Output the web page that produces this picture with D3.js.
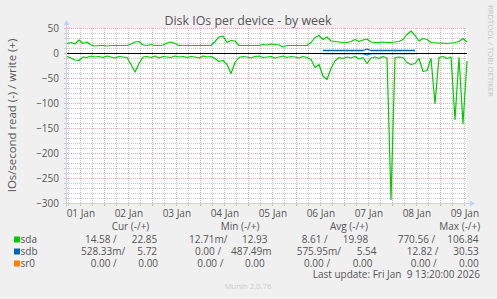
<!DOCTYPE html>
<html>
<head>
<meta charset="utf-8">
<script src="https://cdn.jsdelivr.net/npm/d3@7"></script>
<style>
  html, body { margin: 0; padding: 0; background: #f0f0f0; }
  svg { display: block; font-family: "Open Sans", sans-serif; }
</style>
</head>
<body>
<svg id="chart" width="497" height="299"></svg>
<script>
// one sample every 2 hours, starting at the left edge of the week graph
const startTime = "2026-01-01T05:20:00Z";
const stepHours = 2;

const sdaWrite = [
	20, 22, 19, 27, 20, 23, 17, 15, 16, 16, 15, 16, 16, 16, 16, 16, 19, 23, 24, 17,
	16, 18, 16, 16, 17, 21, 23, 20, 16, 16, 16, 16, 16, 16, 16, 16, 16, 24, 33, 35,
	22, 26, 25, 16, 16, 16, 16, 16, 16, 18, 17, 19, 18, 17, 13, 16, 16, 16, 16, 16,
	16, 22, 32, 36, 28, 33, 25, 24, 23, 22, 22, 24, 28, 24, 27, 29, 23, 22, 22, 23,
	22, 22, 23, 24, 28, 38, 45, 36, 25, 30, 28, 22, 21, 21, 21, 20, 21, 22, 24, 30,
	23
];
// read rates are drawn below zero
const sdaRead = [
	6, 9, 13, 14, 7, 8, 5, 7, 6, 8, 5, 7, 9, 6, 7, 8, 22, 37, 20, 7,
	6, 8, 5, 9, 6, 7, 8, 5, 7, 6, 8, 6, 7, 9, 5, 7, 6, 10, 16, 14,
	22, 40, 18, 8, 6, 7, 9, 6, 5, 8, 7, 6, 9, 7, 5, 8, 6, 7, 9, 6,
	8, 12, 28, 22, 45, 52, 30, 15, 8, 10, 7, 9, 6, 11, 8, 20, 9, 7, 10, 6,
	9, 292, 8, 7, 8, 18, 22, 20, 10, 36, 34, 10, 100, 8, 6, 10, 7, 132, 8, 140,
	15
];
const sdbWrite = [
	null, null, null, null, null, null, null, null, null, null, null, null, null, null, null, null, null, null, null, null,
	null, null, null, null, null, null, null, null, null, null, null, null, null, null, null, null, null, null, null, null,
	null, null, null, null, null, null, null, null, null, null, null, null, null, null, null, null, null, null, null, null,
	null, null, null, null, 6, 6, 6, 6, 6, 6, 6, 6, 6, 6, 6, 9, 6, 6, 6, 6,
	6, 6, 6, 6, 6, 6, 6, 6, null, null, null, null, null, null, null, null, null, null, null, null,
	null
];
const sdbRead = [
	null, null, null, null, null, null, null, null, null, null, null, null, null, null, null, null, null, null, null, null,
	null, null, null, null, null, null, null, null, null, null, null, null, null, null, null, null, null, null, null, null,
	null, null, null, null, null, null, null, null, null, null, null, null, null, null, null, null, null, null, null, null,
	null, null, null, null, 0.5, 0.5, 0.5, 0.5, 0.5, 0.5, 0.5, 0.5, 0.5, 0.5, 0.5, 3, 0.5, 0.5, 0.5, 0.5,
	0.5, 0.5, 0.5, 0.5, 0.5, 0.5, 0.5, 0.5, null, null, null, null, null, null, null, null, null, null, null, null,
	null
];
const sr0Write = [
	0, 0, 0, 0, 0, 0, 0, 0, 0, 0, 0, 0, 0, 0, 0, 0, 0, 0, 0, 0,
	0, 0, 0, 0, 0, 0, 0, 0, 0, 0, 0, 0, 0, 0, 0, 0, 0, 0, 0, 0,
	0, 0, 0, 0, 0, 0, 0, 0, 0, 0, 0, 0, 0, 0, 0, 0, 0, 0, 0, 0,
	0, 0, 0, 0, 0, 0, 0, 0, 0, 0, 0, 0, 0, 0, 0, 0, 0, 0, 0, 0,
	0, 0, 0, 0, 0, 0, 0, 0, 0, 0, 0, 0, 0, 0, 0, 0, 0, 0, 0, 0,
	0
];
const sr0Read = sr0Write;

const yTicks = [50, 0, -50, -100, -150, -200, -250, -300];
const dayLabels = ["01 Jan", "02 Jan", "03 Jan", "04 Jan", "05 Jan", "06 Jan", "07 Jan", "08 Jan", "09 Jan"];

const legendHeader = ["Cur (-/+)", "Min (-/+)", "Avg (-/+)", "Max (-/+)"];
const legendNames = ["sda", "sdb", "sr0"];
const legendValues = [
	["14.58 /", "22.85", "12.71m/", "12.93", "8.61 /", "19.98", "770.56 /", "106.84"],
	["528.33m/", "5.72", "0.00 /", "487.49m", "575.95m/", "5.54", "12.82 /", "30.53"],
	["0.00 /", "0.00", "0.00 /", "0.00", "0.00 /", "0.00", "0.00 /", "0.00"]
];
const lastUpdate = "Last update: Fri Jan  9 13:20:00 2026";

const colors = ["#00CC00", "#0066B3", "#FF8000"];

// layout
const plot = { left: 67, right: 467, top: 28, bottom: 203 };
const headerX = [111.7, 220.7, 330, 439.3];
const valueX = [
	[85, 131.7, 189, 242, 301.7, 342.7, 397.7, 447.3],
	[81, 137.3, 195, 231, 296.7, 356.7, 406.7, 453.3],
	[90.7, 138.3, 197.3, 245, 304, 352.7, 410.7, 459]
];
const rowY = [243, 255, 267];

const svg = d3.select("#chart");
const t0 = d3.isoParse(startTime);
const times = sdaWrite.map((d, i) => d3.utcHour.offset(t0, i * stepHours));
const t1 = times[times.length - 1];

const x = d3.scaleUtc().domain([t0, t1]).range([plot.left, plot.right]);
const y = d3.scaleLinear().domain([-300, 50]).range([plot.bottom, plot.top]);

const textColor = "#555555";
const minorGrid = "#c8c8c8";
const majorGrid = "#e8aaaa";
const axisColor = "#c8cff5";

svg.append("rect").attr("width", 497).attr("height", 299).attr("fill", "#f0f0f0");
svg.append("rect")
	.attr("x", plot.left).attr("y", plot.top)
	.attr("width", plot.right - plot.left).attr("height", plot.bottom - plot.top)
	.attr("fill", "#ffffff");

// grid
const grid = svg.append("g");
const hVals = d3.range(-290, 51, 10);
grid.selectAll(".hgrid")
	.data(hVals)
	.enter()
	.append("line")
	.attr("x1", plot.left).attr("x2", plot.right)
	.attr("y1", (d) => Math.round(y(d)) + 0.5)
	.attr("y2", (d) => Math.round(y(d)) + 0.5)
	.attr("stroke", (d) => (d % 50 === 0 ? majorGrid : minorGrid))
	.attr("stroke-dasharray", "1,1");
grid.selectAll(".htick")
	.data(hVals)
	.enter()
	.append("line")
	.attr("x1", plot.left - 3).attr("x2", plot.left + 1)
	.attr("y1", (d) => Math.round(y(d)) + 0.5)
	.attr("y2", (d) => Math.round(y(d)) + 0.5)
	.attr("stroke", (d) => (d % 50 === 0 ? majorGrid : minorGrid));

const vVals = d3.utcHour.every(6).range(t0, t1);
grid.selectAll(".vgrid")
	.data(vVals)
	.enter()
	.append("line")
	.attr("y1", plot.top).attr("y2", plot.bottom)
	.attr("x1", (d) => Math.round(x(d)) + 0.5)
	.attr("x2", (d) => Math.round(x(d)) + 0.5)
	.attr("stroke", (d) => (d.getUTCHours() === 0 ? majorGrid : minorGrid))
	.attr("stroke-dasharray", "1,1");
grid.selectAll(".vtick")
	.data(vVals)
	.enter()
	.append("line")
	.attr("y1", plot.bottom - 1).attr("y2", plot.bottom + 3)
	.attr("x1", (d) => Math.round(x(d)) + 0.5)
	.attr("x2", (d) => Math.round(x(d)) + 0.5)
	.attr("stroke", (d) => (d.getUTCHours() === 0 ? majorGrid : minorGrid));

// axis lines with arrows
const axisY = plot.bottom + 0.5;
const axisX = plot.left - 0.5;
svg.append("line")
	.attr("x1", plot.left - 4).attr("x2", plot.right + 4)
	.attr("y1", axisY).attr("y2", axisY)
	.attr("stroke", axisColor);
svg.append("path")
	.attr("d", `M${plot.right + 3},${axisY - 3}L${plot.right + 8},${axisY}L${plot.right + 3},${axisY + 3}Z`)
	.attr("fill", axisColor);
svg.append("line")
	.attr("x1", axisX).attr("x2", axisX)
	.attr("y1", plot.bottom + 4).attr("y2", plot.top - 4)
	.attr("stroke", axisColor);
svg.append("path")
	.attr("d", `M${axisX - 3},${plot.top - 3}L${axisX},${plot.top - 8}L${axisX + 3},${plot.top - 3}Z`)
	.attr("fill", axisColor);

// tick labels
const yAxis = d3.axisLeft(y).tickValues(yTicks).tickSize(0).tickPadding(7.5);
const yg = svg.append("g").attr("transform", `translate(${axisX},0.5)`).call(yAxis);
const noonTicks = dayLabels.map((d, i) => d3.utcHour.offset(d3.utcDay.floor(t0), 12 + 24 * i));
const xAxis = d3.axisBottom(x).tickValues(noonTicks).tickFormat((d, i) => dayLabels[i]).tickSize(0).tickPadding(7);
const xg = svg.append("g").attr("transform", `translate(0,${plot.bottom})`).call(xAxis);
[yg, xg].forEach((g) => {
	g.attr("font-family", null).attr("font-size", 10);
	g.select(".domain").remove();
	g.selectAll(".tick line").remove();
	g.selectAll("text").attr("fill", textColor);
});

// data lines, shifted half a pixel so zero sits on the pixel row of the zero rule
const line = d3.line()
	.defined((d) => d != null)
	.x((d, i) => x(times[i]))
	.y((d) => y(d));

const series = [
	{ values: sr0Read.map((d) => -d), color: colors[2], width: 1 },
	{ values: sr0Write, color: colors[2], width: 1 },
	{ values: sdaRead.map((d) => (d == null ? null : -d)), color: colors[0], width: 1.2 },
	{ values: sdaWrite, color: colors[0], width: 1.2 },
	{ values: sdbRead.map((d) => (d == null ? null : -d)), color: colors[1], width: 1.2 },
	{ values: sdbWrite, color: colors[1], width: 1.3 }
];
svg.append("g")
	.attr("transform", "translate(0,0.5)")
	.selectAll("path")
	.data(series)
	.enter()
	.append("path")
	.attr("d", (d) => line(d.values))
	.attr("fill", "none")
	.attr("stroke", (d) => d.color)
	.attr("stroke-width", (d) => d.width)
	.attr("stroke-linejoin", "round");

// zero line
svg.append("line")
	.attr("x1", plot.left).attr("x2", plot.right)
	.attr("y1", y(0) + 0.5).attr("y2", y(0) + 0.5)
	.attr("stroke", "#000000")
	.attr("stroke-width", 1.2);

// titles
svg.append("text")
	.attr("x", 248).attr("y", 25)
	.attr("text-anchor", "middle")
	.attr("font-size", 12.4)
	.attr("fill", textColor)
	.text("Disk IOs per device - by week");

svg.append("text")
	.attr("transform", `translate(15.5,${(plot.top + plot.bottom) / 2}) rotate(-90)`)
	.attr("text-anchor", "middle")
	.attr("font-size", 11.4)
	.attr("fill", textColor)
	.text("IOs/second read (-) / write (+)");

svg.append("text")
	.attr("transform", "translate(487.5,5) rotate(90)")
	.attr("font-size", 7.7)
	.attr("fill", "#c4c4c4")
	.text("RRDTOOL / TOBI OETIKER");

// legend
const legend = svg.append("g").attr("font-size", 10).attr("fill", textColor);
legend.selectAll(".hdr")
	.data(legendHeader)
	.enter()
	.append("text")
	.attr("x", (d, i) => headerX[i])
	.attr("y", 230)
	.text((d) => d);

legendNames.forEach((name, r) => {
	legend.append("rect")
		.attr("x", 14).attr("y", rowY[r] - 6.5)
		.attr("width", 6).attr("height", 6)
		.attr("fill", colors[r]);
	legend.append("text")
		.attr("x", 20.5).attr("y", rowY[r])
		.text(name);
	legend.selectAll(".v" + r)
		.data(legendValues[r])
		.enter()
		.append("text")
		.attr("x", (d, i) => valueX[r][i])
		.attr("y", rowY[r])
		.text((d) => d);
});

legend.append("text")
	.attr("x", 480).attr("y", 278)
	.attr("text-anchor", "end")
	.attr("xml:space", "preserve")
	.style("white-space", "pre")
	.text(lastUpdate);

svg.append("text")
	.attr("x", 248).attr("y", 289)
	.attr("text-anchor", "middle")
	.attr("font-size", 7.7)
	.attr("fill", "#cccccc")
	.text("Munin 2.0.76");
</script>
</body>
</html>
